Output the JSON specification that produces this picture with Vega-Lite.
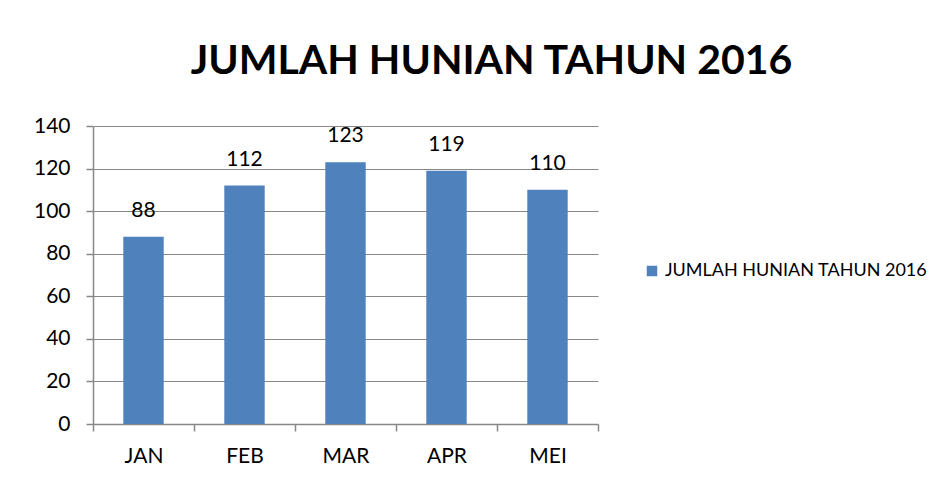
{
  "$schema": "https://vega.github.io/schema/vega-lite/v6.json",
  "width": 505,
  "height": 298,
  "autosize": {"type": "none"},
  "padding": {"left": 93, "top": 126, "right": 346, "bottom": 58},
  "background": "white",
  "title": {
    "text": "JUMLAH HUNIAN TAHUN 2016",
    "font": "Lato",
    "fontSize": 41,
    "fontWeight": "bold",
    "color": "#000000",
    "anchor": "middle",
    "frame": "group",
    "dx": 146,
    "offset": 32
  },
  "data": {
    "values": [
      {"bulan": "JAN", "jumlah": 88, "seri": "JUMLAH HUNIAN TAHUN 2016"},
      {"bulan": "FEB", "jumlah": 112, "seri": "JUMLAH HUNIAN TAHUN 2016"},
      {"bulan": "MAR", "jumlah": 123, "seri": "JUMLAH HUNIAN TAHUN 2016"},
      {"bulan": "APR", "jumlah": 119, "seri": "JUMLAH HUNIAN TAHUN 2016"},
      {"bulan": "MEI", "jumlah": 110, "seri": "JUMLAH HUNIAN TAHUN 2016"}
    ]
  },
  "encoding": {
    "x": {
      "field": "bulan",
      "type": "nominal",
      "sort": null,
      "scale": {"paddingInner": 0, "paddingOuter": 0},
      "axis": {
        "title": null,
        "labelAngle": 0,
        "labelFont": "Lato",
        "labelFontSize": 21,
        "labelColor": "#000000",
        "labelPadding": 14,
        "tickBand": "extent",
        "ticks": true,
        "tickSize": 7,
        "tickWidth": 1.5,
        "tickColor": "#888888",
        "domainColor": "#888888",
        "domainWidth": 1.5,
        "grid": false
      }
    },
    "y": {
      "field": "jumlah",
      "type": "quantitative",
      "scale": {"domain": [0, 140]},
      "axis": {
        "title": null,
        "values": [0, 20, 40, 60, 80, 100, 120, 140],
        "labelFont": "Lato",
        "labelFontSize": 21,
        "labelColor": "#000000",
        "labelPadding": 16,
        "tickSize": 7,
        "tickWidth": 1.5,
        "tickColor": "#888888",
        "domainColor": "#888888",
        "domainWidth": 1.5,
        "gridColor": "#888888",
        "gridWidth": 1
      }
    }
  },
  "layer": [
    {
      "mark": {"type": "bar", "color": "#4F81BD", "width": {"band": 0.4}},
      "encoding": {
        "color": {
          "field": "seri",
          "type": "nominal",
          "scale": {"range": ["#4F81BD"]},
          "legend": {
            "title": null,
            "orient": "none",
            "legendX": 550,
            "legendY": 136,
            "symbolType": "square",
            "symbolSize": 110,
            "symbolStrokeWidth": 0,
            "labelFont": "Lato",
            "labelFontSize": 18,
            "labelColor": "#000000",
            "labelLimit": 400
          }
        }
      }
    },
    {
      "mark": {"type": "text", "font": "Lato", "fontSize": 21, "color": "#000000", "baseline": "alphabetic", "dy": -20},
      "encoding": {"text": {"field": "jumlah", "type": "quantitative"}}
    }
  ],
  "config": {
    "view": {"stroke": null}
  }
}
